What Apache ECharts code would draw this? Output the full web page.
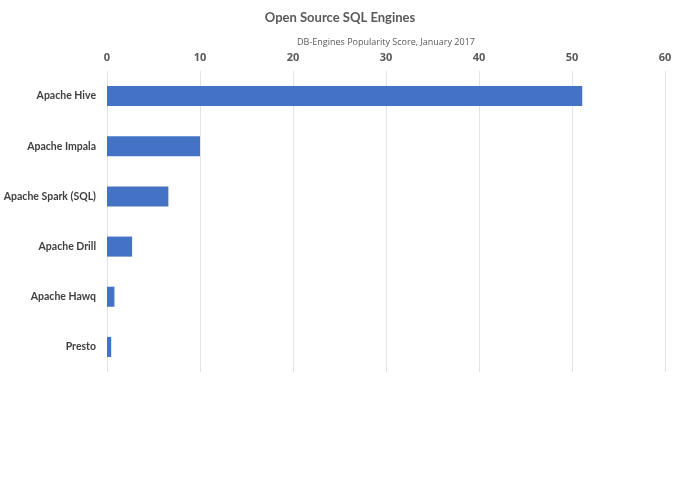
<!DOCTYPE html>
<html>
<head>
<meta charset="utf-8">
<script src="https://cdn.jsdelivr.net/npm/echarts@6/dist/echarts.min.js"></script>
<style>
  html, body { margin: 0; padding: 0; background: #fff; }
  #chart { width: 680px; height: 485px; }
</style>
</head>
<body>
<div id="chart"></div>
<script>
// data
var engines = ['Apache Hive', 'Apache Impala', 'Apache Spark (SQL)', 'Apache Drill', 'Apache Hawq', 'Presto'];
var scores = [51.1, 10.0, 6.6, 2.7, 0.8, 0.45];
var scoreTicks = [0, 60, 10];

var chart = echarts.init(document.getElementById('chart'));

var option = {
    backgroundColor: '#ffffff',
    title: {
        text: 'Open Source SQL Engines',
        left: 'center',
        top: 6,
        textStyle: {
            fontFamily: 'Lato',
            fontSize: 13,
            fontWeight: 'bold',
            color: '#595959'
        }
    },
    grid: {
        left: 107,
        right: 15,
        top: 71,
        height: 301,
        outerBoundsMode: 'none'
    },
    xAxis: {
        type: 'value',
        position: 'top',
        min: scoreTicks[0],
        max: scoreTicks[1],
        interval: scoreTicks[2],
        name: 'DB-Engines Popularity Score, January 2017',
        nameLocation: 'middle',
        nameGap: 24,
        nameTextStyle: {
            fontFamily: 'Open Sans',
            fontSize: 9,
            color: '#595959'
        },
        axisLine: { show: false },
        axisTick: { show: false },
        axisLabel: {
            margin: 8,
            fontFamily: 'Open Sans',
            fontSize: 11,
            fontWeight: 'bold',
            color: '#595959'
        },
        splitLine: {
            lineStyle: { color: '#e3e3e3', width: 1 }
        }
    },
    yAxis: {
        type: 'category',
        inverse: true,
        data: engines,
        axisLine: { show: false },
        axisTick: { show: false },
        axisLabel: {
            margin: 11,
            fontFamily: 'Lato',
            fontSize: 10.5,
            fontWeight: 'bold',
            color: '#404040'
        }
    },
    series: [
        {
            name: 'Score',
            type: 'bar',
            data: scores,
            barWidth: '40%',
            itemStyle: { color: '#4472C4' }
        }
    ]
};

chart.setOption(option);
</script>
</body>
</html>
